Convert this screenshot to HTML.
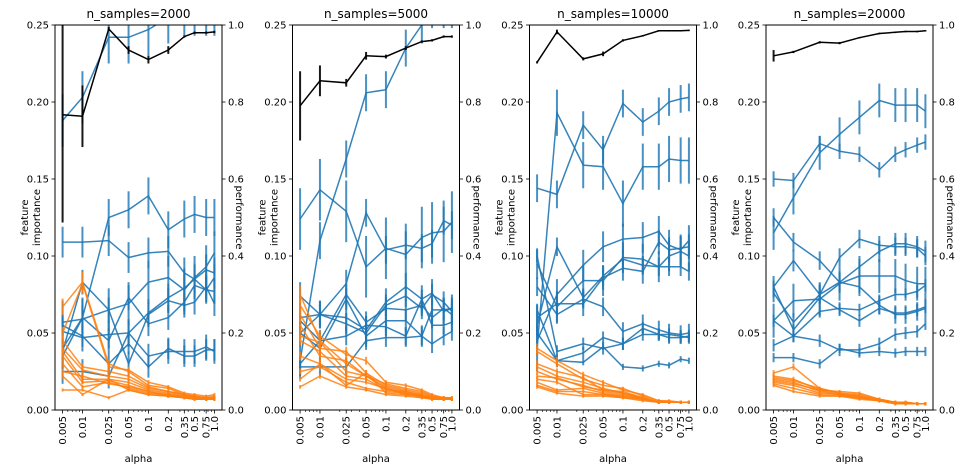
<!DOCTYPE html>
<html><head><meta charset="utf-8"><style>
html,body{margin:0;padding:0;background:#fff}
svg{display:block;font-family:"DejaVu Sans","Liberation Sans",sans-serif}
</style></head><body>
<svg id="fig" width="980" height="472" viewBox="0 0 980 472" xmlns="http://www.w3.org/2000/svg"></svg>
<script>
const alphas=[0.005,0.01,0.025,0.05,0.1,0.2,0.35,0.5,0.75,1.0];
const alphaLabels=["0.005","0.01","0.025","0.05","0.1","0.2","0.35","0.5","0.75","1.0"];
const titles=["n_samples=2000","n_samples=5000","n_samples=10000","n_samples=20000"];
const yTicksLeft=[0,0.05,0.10,0.15,0.20,0.25];
const yTickLabelsLeft=["0.00","0.05","0.10","0.15","0.20","0.25"];
const yTicksRight=[0,0.2,0.4,0.6,0.8,1.0];
const yTickLabelsRight=["0.0","0.2","0.4","0.6","0.8","1.0"];

const blue1=[
[0.188,0.203,0.242,0.242,0.247,0.255,0.26,0.26,0.26,0.26],
[0.109,0.109,0.110,0.099,0.102,0.103,0.089,0.085,0.091,0.089],
[0.040,0.060,0.125,0.130,0.139,0.117,0.124,0.127,0.125,0.125],
[0.057,0.059,0.065,0.069,0.083,0.086,0.078,0.086,0.093,0.102],
[0.051,0.047,0.049,0.050,0.063,0.073,0.079,0.085,0.078,0.086],
[0.035,0.060,0.045,0.073,0.056,0.060,0.070,0.081,0.078,0.077],
[0.038,0.083,0.065,0.030,0.062,0.071,0.068,0.070,0.080,0.069],
[0.025,0.025,0.022,0.050,0.035,0.038,0.038,0.038,0.041,0.038],
[0.055,0.048,0.030,0.043,0.028,0.040,0.035,0.035,0.039,0.039]];
const blueErr1=[0.017,0.01,0.012,0.014,0.009,0.008,0.008,0.008,0.007,0.005];
const orange1=[
[0.067,0.083,0.030,0.025,0.016,0.014,0.010,0.009,0.008,0.009],
[0.050,0.082,0.028,0.026,0.018,0.015,0.011,0.010,0.009,0.010],
[0.045,0.028,0.025,0.022,0.015,0.012,0.010,0.009,0.008,0.008],
[0.040,0.026,0.022,0.020,0.014,0.012,0.010,0.008,0.008,0.008],
[0.038,0.020,0.020,0.018,0.013,0.011,0.009,0.008,0.007,0.008],
[0.035,0.018,0.019,0.016,0.012,0.010,0.009,0.007,0.007,0.007],
[0.030,0.015,0.018,0.014,0.011,0.010,0.008,0.007,0.007,0.007],
[0.025,0.022,0.017,0.015,0.012,0.009,0.008,0.007,0.007,0.007],
[0.022,0.010,0.020,0.013,0.010,0.009,0.008,0.007,0.007,0.007],
[0.013,0.013,0.008,0.013,0.010,0.009,0.008,0.008,0.007,0.007]];
const perf1=[0.767,0.763,0.99,0.935,0.91,0.935,0.97,0.98,0.98,0.982];
const perfErr1=[0.28,0.08,0.005,0.01,0.01,0.01,0.003,0.003,0.003,0.003];

const blue2=[
[0.032,0.110,0.163,0.206,0.208,0.235,0.250,0.26,0.26,0.26],
[0.124,0.143,0.129,0.093,0.105,0.101,0.112,0.115,0.116,0.122],
[0.050,0.062,0.082,0.128,0.104,0.107,0.105,0.108,0.123,0.120],
[0.074,0.062,0.060,0.052,0.070,0.080,0.072,0.076,0.064,0.066],
[0.060,0.062,0.056,0.050,0.068,0.074,0.066,0.075,0.070,0.064],
[0.058,0.045,0.075,0.057,0.066,0.065,0.068,0.060,0.066,0.062],
[0.050,0.040,0.072,0.048,0.058,0.058,0.048,0.065,0.065,0.066],
[0.030,0.045,0.048,0.055,0.054,0.048,0.072,0.055,0.055,0.057],
[0.028,0.028,0.028,0.045,0.047,0.047,0.048,0.043,0.048,0.051]];
const blueErr2=[0.012,0.02,0.009,0.009,0.007,0.007,0.007,0.006,0.006,0.005];
const orange2=[
[0.075,0.045,0.030,0.022,0.017,0.014,0.012,0.009,0.008,0.008],
[0.068,0.048,0.036,0.032,0.018,0.016,0.013,0.010,0.008,0.008],
[0.062,0.040,0.038,0.024,0.016,0.013,0.011,0.009,0.008,0.007],
[0.055,0.035,0.032,0.022,0.015,0.012,0.010,0.008,0.007,0.007],
[0.048,0.044,0.025,0.022,0.014,0.011,0.010,0.008,0.007,0.007],
[0.045,0.038,0.022,0.020,0.013,0.012,0.009,0.008,0.007,0.007],
[0.035,0.030,0.020,0.018,0.014,0.010,0.009,0.007,0.007,0.007],
[0.025,0.028,0.018,0.014,0.012,0.011,0.008,0.008,0.007,0.007],
[0.020,0.030,0.016,0.024,0.011,0.010,0.009,0.007,0.007,0.007],
[0.015,0.022,0.015,0.013,0.010,0.009,0.008,0.007,0.007,0.007]];
const perf2=[0.79,0.855,0.85,0.92,0.918,0.94,0.957,0.96,0.97,0.97];
const perfErr2=[0.09,0.04,0.01,0.01,0.005,0.005,0.003,0.003,0.003,0.003];

const blue3=[
[0.144,0.140,0.185,0.169,0.199,0.187,0.194,0.200,0.202,0.203],
[0.040,0.193,0.159,0.158,0.134,0.158,0.158,0.163,0.162,0.162],
[0.045,0.075,0.094,0.106,0.111,0.112,0.116,0.107,0.104,0.110],
[0.095,0.067,0.084,0.084,0.099,0.098,0.093,0.100,0.103,0.100],
[0.060,0.069,0.069,0.086,0.092,0.090,0.109,0.104,0.105,0.106],
[0.055,0.106,0.073,0.087,0.098,0.094,0.093,0.093,0.093,0.090],
[0.080,0.062,0.072,0.067,0.051,0.056,0.052,0.050,0.049,0.050],
[0.100,0.038,0.043,0.040,0.043,0.053,0.049,0.049,0.048,0.047],
[0.065,0.032,0.037,0.047,0.043,0.049,0.049,0.047,0.047,0.048],
[0.050,0.032,0.031,0.041,0.028,0.027,0.030,0.029,0.033,0.032]];
const blueErr3=[0.009,0.015,0.01,0.01,0.008,0.006,0.006,0.004,0.004,0.002];
const orange3=[
[0.040,0.032,0.023,0.018,0.013,0.010,0.006,0.006,0.005,0.005],
[0.038,0.030,0.020,0.016,0.014,0.009,0.006,0.005,0.005,0.005],
[0.030,0.025,0.021,0.013,0.012,0.008,0.005,0.005,0.005,0.005],
[0.028,0.022,0.018,0.014,0.011,0.008,0.005,0.005,0.005,0.005],
[0.025,0.020,0.016,0.012,0.010,0.008,0.005,0.005,0.005,0.005],
[0.022,0.021,0.015,0.013,0.011,0.007,0.005,0.005,0.005,0.005],
[0.020,0.018,0.010,0.010,0.009,0.007,0.005,0.005,0.005,0.005],
[0.018,0.013,0.014,0.011,0.009,0.007,0.005,0.005,0.005,0.005],
[0.016,0.012,0.012,0.010,0.008,0.007,0.005,0.005,0.005,0.005],
[0.015,0.011,0.009,0.009,0.008,0.006,0.005,0.005,0.005,0.005]];
const perf3=[0.903,0.982,0.912,0.925,0.96,0.972,0.985,0.985,0.985,0.986];
const perfErr3=[0.003,0.006,0.004,0.006,0.003,0.002,0.002,0.002,0.002,0.002];

const blue4=[
[0.115,0.138,0.167,0.179,0.190,0.201,0.198,0.198,0.198,0.194],
[0.150,0.149,0.173,0.168,0.166,0.156,0.166,0.169,0.172,0.174],
[0.125,0.109,0.097,0.083,0.080,0.068,0.062,0.062,0.064,0.066],
[0.080,0.097,0.075,0.083,0.093,0.103,0.108,0.108,0.106,0.103],
[0.058,0.071,0.072,0.082,0.087,0.087,0.087,0.084,0.082,0.082],
[0.076,0.057,0.075,0.099,0.111,0.107,0.106,0.106,0.105,0.100],
[0.080,0.052,0.073,0.065,0.058,0.066,0.063,0.063,0.065,0.067],
[0.058,0.048,0.064,0.066,0.065,0.071,0.075,0.075,0.077,0.081],
[0.042,0.048,0.045,0.039,0.039,0.043,0.049,0.050,0.051,0.056],
[0.034,0.034,0.030,0.040,0.037,0.038,0.037,0.038,0.038,0.038]];
const blueErr4=[0.011,0.005,0.006,0.007,0.011,0.006,0.004,0.004,0.004,0.003];
const orange4=[
[0.024,0.028,0.014,0.011,0.010,0.007,0.005,0.005,0.004,0.004],
[0.022,0.020,0.013,0.012,0.011,0.007,0.005,0.005,0.004,0.004],
[0.021,0.019,0.014,0.011,0.009,0.007,0.005,0.005,0.004,0.004],
[0.020,0.018,0.012,0.010,0.009,0.006,0.005,0.004,0.004,0.004],
[0.019,0.017,0.013,0.010,0.008,0.006,0.005,0.004,0.004,0.004],
[0.018,0.016,0.011,0.010,0.008,0.006,0.005,0.004,0.004,0.004],
[0.017,0.014,0.010,0.009,0.008,0.006,0.004,0.004,0.004,0.004],
[0.016,0.012,0.009,0.009,0.007,0.006,0.004,0.004,0.004,0.004]];
const perf4=[0.92,0.93,0.955,0.953,0.967,0.978,0.981,0.983,0.983,0.985];
const perfErr4=[0.015,0.003,0.003,0.003,0.002,0.002,0.002,0.002,0.002,0.002];

const panelsBlue=[blue1,blue2,blue3,blue4];
const panelsBlueErr=[blueErr1,blueErr2,blueErr3,blueErr4];
const panelsOrange=[orange1,orange2,orange3,orange4];
const panelsPerf=[perf1,perf2,perf3,perf4];
const panelsPerfErr=[perfErr1,perfErr2,perfErr3,perfErr4];

const NS="http://www.w3.org/2000/svg";
const svg=document.getElementById('fig');
function mk(tag,attrs,parent){const e=document.createElementNS(NS,tag);for(const k in attrs)e.setAttribute(k,attrs[k]);(parent||svg).appendChild(e);return e;}

const lefts=[55,292.5,529.5,766];
const W=167, TOP=25, BOT=410;
const lmin=Math.log10(0.005)-0.115, lmax=0+0.115;

lefts.forEach((L,p)=>{
  const g=mk('g',{});
  
  
  const xs=v=>L+(Math.log10(v)-lmin)/(lmax-lmin)*W;
  const yl=v=>BOT-v/0.25*(BOT-TOP);
  const yr=v=>BOT-v*(BOT-TOP);
  const cp=mk('clipPath',{id:'clip'+p},g);
  mk('rect',{x:L,y:TOP,width:W,height:BOT-TOP},cp);
  const data=mk('g',{'clip-path':'url(#clip'+p+')'},g);
  function series(vals,errs,ys,color,name,alpha,lw){
    const sg=mk('g',{},data);
    
    
    const pts=vals.map((v,i)=>xs(alphas[i]).toFixed(1)+','+ys(v).toFixed(1)).join(' ');
    mk('polyline',{points:pts,fill:'none',stroke:color,'stroke-width':lw,'stroke-opacity':alpha},sg);
    vals.forEach((v,i)=>{
      const e=errs[i];
      mk('line',{x1:xs(alphas[i]),x2:xs(alphas[i]),y1:ys(v-e),y2:ys(v+e),stroke:color,'stroke-width':2,'stroke-opacity':alpha*0.9},sg);
    });
  }
  panelsBlue[p].forEach((ln,j)=>{
    const errs=ln.map(()=>panelsBlueErr[p][j]);
    series(ln,errs,yl,'#1f77b4','blue-series-'+(j+1),0.9,1.5);
  });
  panelsOrange[p].forEach((ln,j)=>{
    const errs=ln.map(v=>Math.max(0.001,v*0.08));
    series(ln,errs,yl,'#ff7f0e','orange-series-'+(j+1),0.85,1.5);
  });
  series(panelsPerf[p],panelsPerfErr[p],yr,'#000000','performance-line',1,1.5);
  const fr=mk('rect',{x:L,y:TOP,width:W,height:BOT-TOP,fill:'none',stroke:'#000','stroke-width':1},g);
  
  
  yTicksLeft.forEach((v,i)=>{
    mk('line',{x1:L-3.5,x2:L,y1:yl(v),y2:yl(v),stroke:'#000','stroke-width':0.8},g);
    const t=mk('text',{x:L-6,y:yl(v)+3.5,'font-size':10,'text-anchor':'end',fill:'#000'},g);
    t.textContent=yTickLabelsLeft[i];
    
    
  });
  yTicksRight.forEach((v,i)=>{
    mk('line',{x1:L+W,x2:L+W+3.5,y1:yr(v),y2:yr(v),stroke:'#000','stroke-width':0.8},g);
    const t=mk('text',{x:L+W+6,y:yr(v)+3.5,'font-size':10,'text-anchor':'start',fill:'#000'},g);
    t.textContent=yTickLabelsRight[i];
    
    
  });
  alphas.forEach((a,i)=>{
    const x=xs(a);
    mk('line',{x1:x,x2:x,y1:BOT,y2:BOT+3.5,stroke:'#000','stroke-width':0.8},g);
    const t=mk('text',{x:0,y:0,'font-size':10,'text-anchor':'end',fill:'#000',transform:`translate(${(x+3.5).toFixed(1)},${BOT+6}) rotate(-90)`},g);
    t.textContent=alphaLabels[i];
    
    
  });
  [0.006,0.007,0.008,0.009,0.02,0.03,0.04,0.06,0.07,0.08,0.09,0.3,0.4,0.6,0.7,0.8,0.9].forEach(a=>{
    const x=xs(a);
    mk('line',{x1:x,x2:x,y1:BOT,y2:BOT+2,stroke:'#000','stroke-width':0.6},g);
  });
  const tt=mk('text',{x:L+W/2,y:18,'font-size':12,'text-anchor':'middle',fill:'#000'},g);
  tt.textContent=titles[p];
  
  
  const xl=mk('text',{x:L+W/2,y:462,'font-size':10,'text-anchor':'middle',fill:'#000'},g);
  xl.textContent='alpha';
  
  
  const yt=mk('text',{x:0,y:0,'font-size':10,'text-anchor':'middle',fill:'#000',transform:`translate(${L-25},${(TOP+BOT)/2}) rotate(-90)`},g);
  
  
  const s1=mk('tspan',{x:0,dy:-2},yt); s1.textContent='feature';
  const s2=mk('tspan',{x:0,dy:12},yt); s2.textContent='importance';
  const rt=mk('text',{x:0,y:0,'font-size':10,'text-anchor':'middle',fill:'#000',transform:`translate(${L+W+14},${(TOP+BOT)/2}) rotate(90)`},g);
  rt.textContent='performance';
  
  
});
</script>
</body></html>
